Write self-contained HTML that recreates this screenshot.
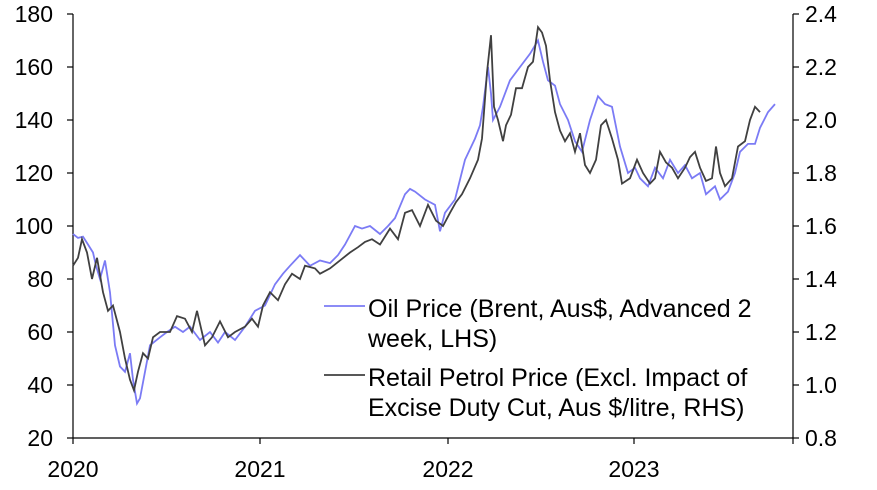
<!DOCTYPE html>
<html><head><meta charset="utf-8"><style>
html,body{margin:0;padding:0;background:#fff;}
svg{display:block;font-family:"Liberation Sans",Arial,sans-serif;}
</style></head><body>
<svg id="s" width="877" height="490" viewBox="0 0 877 490">
<g stroke="#000" stroke-width="1.2">
<line x1="73" y1="14" x2="73" y2="438"/>
<line x1="793" y1="14" x2="793" y2="438"/>
<line x1="73" y1="438" x2="793" y2="438"/>
</g>
<g id="ticks" stroke="#000" stroke-width="1.2"></g>
<g id="labels" font-size="23" fill="#000"></g>
<polyline id="oil" fill="none" stroke="#7B7BF5" stroke-width="1.8"/>
<polyline id="ret" fill="none" stroke="#404040" stroke-width="1.8"/>
<line x1="324" y1="306" x2="365" y2="306" stroke="#7B7BF5" stroke-width="1.8"/>
<line x1="324" y1="375" x2="365" y2="375" stroke="#404040" stroke-width="1.8"/>
<g font-size="25" fill="#000">
<text x="368" y="317">Oil Price (Brent, Aus$, Advanced 2</text>
<text x="368" y="347">week, LHS)</text>
<text x="368" y="386">Retail Petrol Price (Excl. Impact of</text>
<text x="368" y="416">Excise Duty Cut, Aus $/litre, RHS)</text>
</g>
</svg>
<script>
var NS="http://www.w3.org/2000/svg";
function el(t,a,txt){var e=document.createElementNS(NS,t);for(var k in a)e.setAttribute(k,a[k]);if(txt!==undefined)e.textContent=txt;return e;}
var T=document.getElementById('ticks'),L=document.getElementById('labels');
for(var i=0;i<=8;i++){var y=14+i*53;
T.appendChild(el('line',{x1:67,y1:y,x2:73,y2:y}));
T.appendChild(el('line',{x1:793,y1:y,x2:799,y2:y}));
L.appendChild(el('text',{x:53,y:y+8,'text-anchor':'end'},String(180-i*20)));
L.appendChild(el('text',{x:805,y:y+8},(2.4-i*0.2).toFixed(1)));}
var xs=[73,260,448,634,793];
xs.forEach(function(x){T.appendChild(el('line',{x1:x,y1:438,x2:x,y2:444}));});
[2020,2021,2022,2023].forEach(function(yr,i){L.appendChild(el('text',{x:xs[i],y:477,'text-anchor':'middle'},String(yr)));});
function ly(v){return 14+(180-v)/20*53;}
function ry(v){return 14+(2.4-v)/0.2*53;}
var oil=[[73,97],[78,95.5],[83,96],[88,93],[93,90],[96,85],[100,80],[105,87],[110,75],[115,55],[120,47],[125,45],[130,52],[133,42],[137,33],[140,35],[145,45],[150,55],[160,58],[167,60],[175,62],[183,60],[190,62],[200,57],[210,60],[218,56],[225,60],[235,57],[245,62],[255,68],[265,70],[275,78],[283,82],[290,85],[300,89],[310,85],[320,87],[330,86],[338,89],[345,93],[355,100],[362,99],[370,100],[380,97],[388,100],[395,103],[405,112],[410,114],[415,113],[425,110],[435,108],[440,98],[445,105],[455,110],[465,125],[475,133],[480,138],[483,145],[488,160],[491,150],[493,140],[500,145],[510,155],[520,160],[530,165],[538,170],[543,162],[548,155],[555,153],[560,146],[568,140],[575,132],[582,128],[590,140],[598,149],[605,146],[612,145],[620,130],[628,120],[635,122],[640,118],[648,115],[655,122],[663,118],[670,125],[678,120],[685,123],[692,118],[700,120],[706,112],[715,115],[720,110],[728,113],[735,120],[740,128],[748,131],[755,131],[760,137],[768,143],[775,146]];
var ret=[[73,1.45],[78,1.48],[82,1.55],[87,1.5],[92,1.4],[97,1.48],[103,1.35],[108,1.28],[113,1.3],[120,1.2],[125,1.1],[130,1.02],[134,0.98],[138,1.05],[143,1.12],[148,1.1],[153,1.18],[160,1.2],[170,1.2],[177,1.26],[185,1.25],[192,1.2],[197,1.28],[205,1.15],[212,1.18],[220,1.24],[228,1.18],[235,1.2],[245,1.22],[252,1.25],[258,1.22],[263,1.3],[270,1.35],[278,1.32],[285,1.38],[292,1.42],[300,1.4],[305,1.45],[315,1.44],[320,1.42],[330,1.44],[340,1.47],[350,1.5],[358,1.52],[365,1.54],[372,1.55],[380,1.53],[390,1.59],[398,1.55],[405,1.65],[412,1.66],[420,1.6],[428,1.68],[436,1.62],[443,1.6],[450,1.65],[456,1.69],[462,1.72],[470,1.78],[478,1.85],[482,1.93],[487,2.18],[491,2.32],[494,2.05],[498,2.0],[503,1.92],[506,1.98],[511,2.02],[516,2.12],[522,2.12],[528,2.2],[533,2.22],[538,2.35],[542,2.33],[546,2.28],[550,2.15],[555,2.03],[560,1.96],[565,1.92],[570,1.95],[575,1.88],[580,1.95],[585,1.83],[590,1.8],[596,1.85],[601,1.98],[606,2.0],[612,1.93],[618,1.85],[622,1.76],[630,1.78],[637,1.85],[643,1.8],[650,1.76],[655,1.78],[660,1.88],[666,1.84],[672,1.82],[678,1.78],[685,1.82],[690,1.86],[695,1.88],[700,1.82],[706,1.77],[712,1.78],[716,1.9],[720,1.8],[725,1.75],[732,1.78],[738,1.9],[745,1.92],[750,2.0],[755,2.05],[760,2.03]];
document.getElementById('oil').setAttribute('points',oil.map(function(p){return p[0]+','+ly(p[1]).toFixed(1);}).join(' '));
document.getElementById('ret').setAttribute('points',ret.map(function(p){return p[0]+','+ry(p[1]).toFixed(1);}).join(' '));
</script>
</body></html>
